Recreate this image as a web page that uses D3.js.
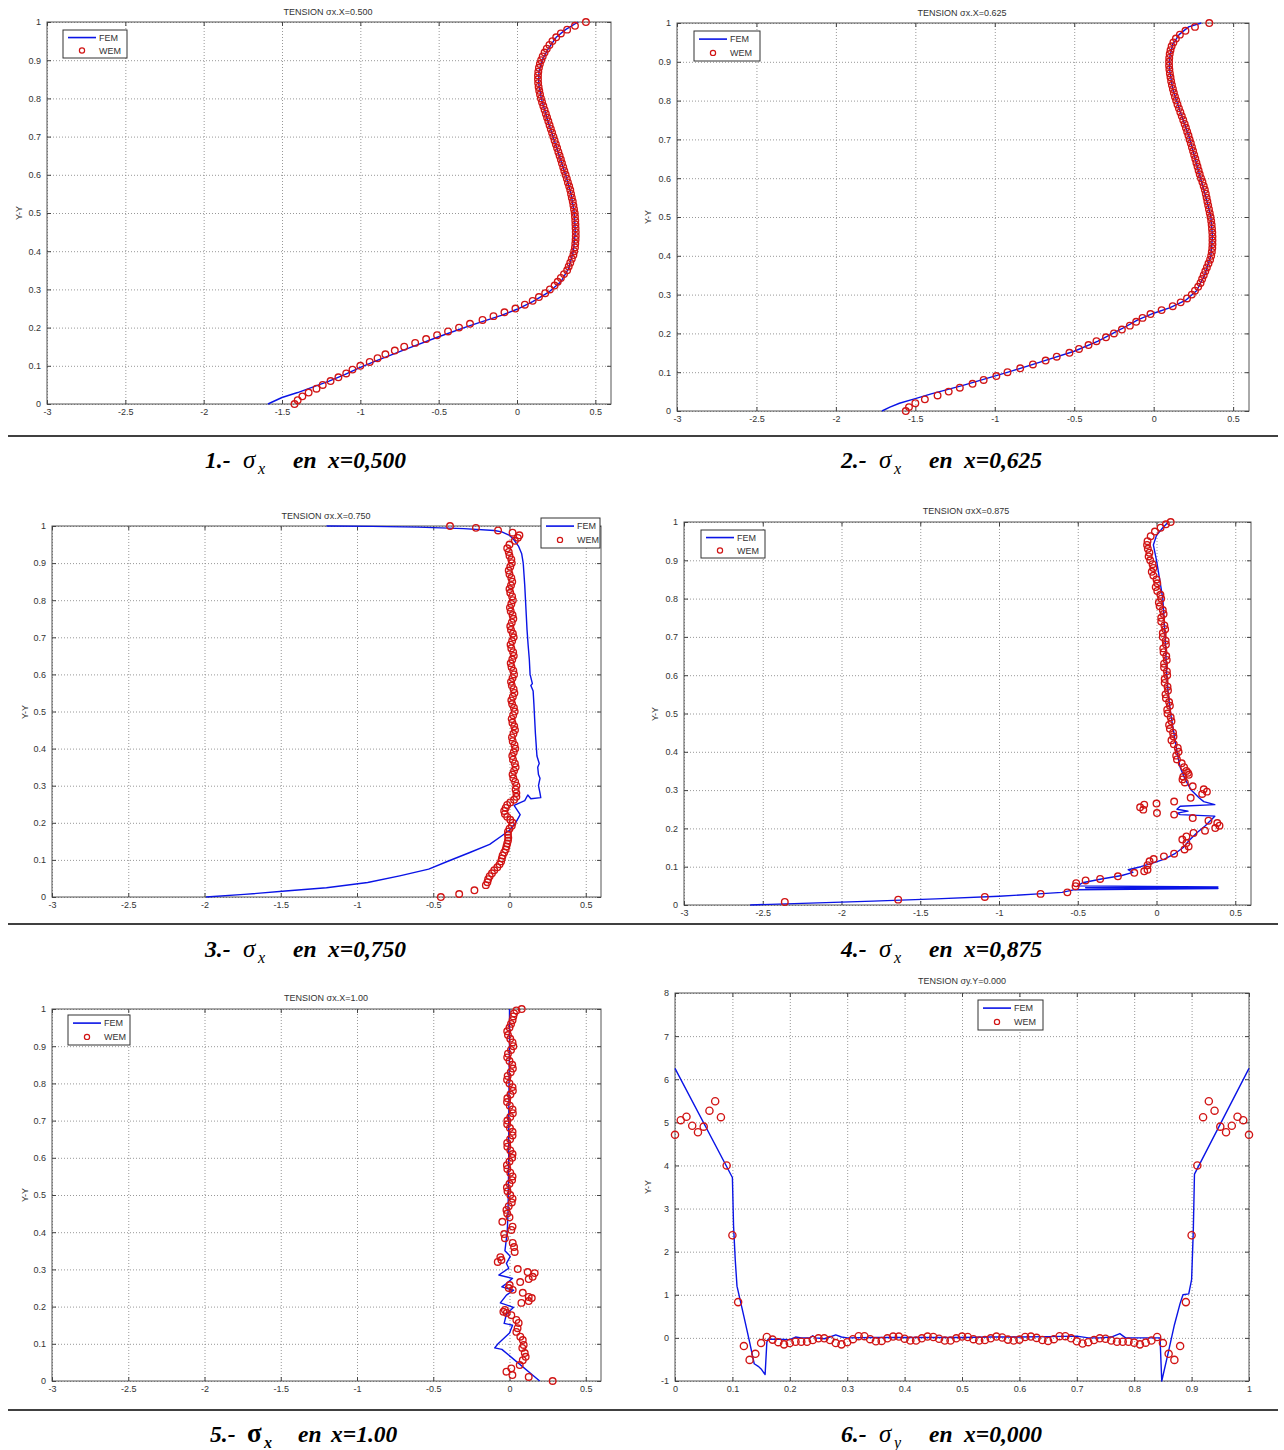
<!DOCTYPE html>
<html><head><meta charset="utf-8">
<script src="https://cdn.jsdelivr.net/npm/d3@7"></script>
<style>
body{margin:0;background:#fff;}
svg{display:block;}
</style></head><body>
<svg id="c" width="1284" height="1450"></svg>
<script>
// ---------------- DATA ----------------
const xTicksSx = [-3,-2.5,-2,-1.5,-1,-0.5,0,0.5];
const yTicksUnit = [0,0.1,0.2,0.3,0.4,0.5,0.6,0.7,0.8,0.9,1];
const xTicksUnit = [0,0.1,0.2,0.3,0.4,0.5,0.6,0.7,0.8,0.9,1];
const yTicksSy = [-1,0,1,2,3,4,5,6,7,8];

const wemY = [0,0.01,0.02,0.03,0.04,0.05,0.06,0.07,0.08,0.09,
 0.1,0.11,0.12,0.13,0.14,0.15,0.16,0.17,0.18,0.19,
 0.2,0.21,0.22,0.23,0.24,0.25,0.26,0.27,0.28,0.29,
 0.3,0.31,0.32,0.33,0.34,0.35,0.36,0.37,0.38,0.39,
 0.4,0.41,0.42,0.43,0.44,0.45,0.46,0.47,0.48,0.49,
 0.5,0.51,0.52,0.53,0.54,0.55,0.56,0.57,0.58,0.59,
 0.6,0.61,0.62,0.63,0.64,0.65,0.66,0.67,0.68,0.69,
 0.7,0.71,0.72,0.73,0.74,0.75,0.76,0.77,0.78,0.79,
 0.8,0.81,0.82,0.83,0.84,0.85,0.86,0.87,0.88,0.89,
 0.9,0.91,0.92,0.93,0.94,0.95,0.96,0.97,0.98,0.99,1.0];

const p1WemX = [-1.42,-1.40,-1.37,-1.33,-1.28,-1.24,-1.19,-1.14,-1.09,-1.05,
 -1.00,-0.94,-0.89,-0.84,-0.78,-0.72,-0.65,-0.58,-0.51,-0.44,
 -0.37,-0.30,-0.22,-0.15,-0.08,-0.01,0.05,0.10,0.14,0.18,
 0.21,0.24,0.26,0.28,0.30,0.32,0.33,0.34,0.35,0.36,
 0.365,0.37,0.372,0.374,0.375,0.375,0.374,0.373,0.372,0.37,
 0.368,0.364,0.36,0.356,0.35,0.345,0.34,0.333,0.325,0.318,
 0.31,0.302,0.295,0.287,0.28,0.272,0.264,0.256,0.248,0.24,
 0.232,0.224,0.216,0.208,0.2,0.192,0.184,0.176,0.168,0.16,
 0.153,0.147,0.142,0.138,0.135,0.134,0.134,0.136,0.14,0.146,
 0.154,0.164,0.176,0.19,0.207,0.226,0.25,0.28,0.32,0.37,0.44];

const p1Fem = [[-1.59,0.0],[-1.5,0.017],[-1.4,0.03],[-1.3,0.045],[-1.2,0.06],[-1.1,0.077],[-1.0,0.096],[-0.9,0.113],[-0.7,0.145],[-0.5,0.176],[-0.3,0.205],[-0.1,0.232],[0.0,0.248],[0.1,0.268],[0.2,0.292],[0.28,0.32],[0.33,0.355],[0.36,0.4],[0.372,0.45],[0.366,0.5],[0.345,0.55],[0.31,0.6],[0.27,0.65],[0.23,0.7],[0.19,0.75],[0.155,0.8],[0.138,0.84],[0.14,0.87],[0.16,0.9],[0.2,0.93],[0.25,0.96],[0.31,0.98],[0.39,1.0]];

const p2WemX = [-1.56,-1.54,-1.50,-1.44,-1.36,-1.29,-1.22,-1.14,-1.07,-0.99,
 -0.92,-0.84,-0.76,-0.68,-0.61,-0.53,-0.47,-0.41,-0.36,-0.30,
 -0.25,-0.20,-0.15,-0.11,-0.07,-0.02,0.05,0.12,0.17,0.21,
 0.24,0.26,0.28,0.295,0.305,0.315,0.325,0.335,0.345,0.355,
 0.362,0.366,0.369,0.37,0.37,0.37,0.369,0.367,0.365,0.362,
 0.358,0.353,0.348,0.343,0.338,0.333,0.328,0.322,0.315,0.307,
 0.298,0.29,0.283,0.276,0.269,0.262,0.255,0.248,0.241,0.234,
 0.226,0.219,0.211,0.203,0.195,0.186,0.177,0.168,0.159,0.15,
 0.142,0.134,0.127,0.121,0.115,0.11,0.106,0.102,0.099,0.097,
 0.097,0.098,0.101,0.106,0.113,0.124,0.14,0.165,0.2,0.26,0.35];

const p2Fem = [[-1.71,0.0],[-1.66,0.01],[-1.6,0.02],[-1.5,0.032],[-1.4,0.044],[-1.3,0.055],[-1.2,0.066],[-1.05,0.084],[-0.9,0.102],[-0.7,0.128],[-0.5,0.154],[-0.35,0.18],[-0.2,0.212],[-0.1,0.235],[0.0,0.252],[0.1,0.266],[0.2,0.285],[0.27,0.31],[0.32,0.35],[0.36,0.4],[0.37,0.45],[0.36,0.5],[0.33,0.55],[0.295,0.6],[0.255,0.66],[0.22,0.71],[0.16,0.78],[0.12,0.83],[0.1,0.88],[0.1,0.91],[0.12,0.945],[0.16,0.97],[0.22,0.99],[0.3,1.0]];

const p3Wem = [[-0.39,1.0],[-0.22,0.995],[-0.075,0.988],[0.02,0.982],[0.065,0.975],[0.055,0.968],[0.035,0.96],[0.0,0.95],[-0.015,0.94],[-0.005,0.93],
 [0.0,0.92],[0.012,0.91],[0.015,0.90],[0.005,0.89],[-0.005,0.88],[0.0,0.87],[0.012,0.86],[0.018,0.85],[0.01,0.84],[0.0,0.83],[0.005,0.82],[0.017,0.81],[0.022,0.80],[0.012,0.79],[0.003,0.78],[0.008,0.77],[0.02,0.76],[0.025,0.75],[0.015,0.74],[0.005,0.73],[0.01,0.72],[0.022,0.71],[0.027,0.70],[0.017,0.69],[0.007,0.68],[0.012,0.67],[0.024,0.66],[0.028,0.65],[0.018,0.64],[0.008,0.63],[0.013,0.62],[0.025,0.61],[0.03,0.60],[0.02,0.59],[0.01,0.58],[0.015,0.57],[0.027,0.56],[0.032,0.55],[0.022,0.54],[0.012,0.53],[0.017,0.52],[0.029,0.51],[0.034,0.50],[0.024,0.49],[0.014,0.48],[0.019,0.47],[0.031,0.46],[0.036,0.45],[0.026,0.44],[0.016,0.43],[0.021,0.42],[0.033,0.41],[0.038,0.40],[0.028,0.39],[0.018,0.38],[0.023,0.37],[0.035,0.36],[0.04,0.35],[0.03,0.34],[0.02,0.33],[0.025,0.32],[0.037,0.31],[0.045,0.30],[0.04,0.29],[0.045,0.28],
 [0.045,0.27],[0.03,0.262],[0.005,0.255],[-0.015,0.248],[-0.025,0.24],[-0.035,0.232],[-0.03,0.224],[-0.015,0.216],[0.005,0.208],[0.02,0.2],[0.015,0.192],[0.0,0.184],[-0.01,0.176],[-0.01,0.168],[-0.008,0.16],[-0.01,0.152],[-0.015,0.144],[-0.02,0.136],[-0.025,0.128],[-0.035,0.12],[-0.045,0.112],[-0.05,0.104],[-0.055,0.096],[-0.065,0.088],[-0.08,0.08],[-0.1,0.072],[-0.115,0.064],[-0.13,0.056],[-0.14,0.048],[-0.145,0.04],[-0.155,0.032],[-0.23,0.018],[-0.33,0.008],[-0.45,0.0]];

const p3Fem = [[-1.2,1.0],[-0.9,0.999],[-0.6,0.997],[-0.3,0.993],[-0.1,0.988],[-0.05,0.984],[0.0,0.975],[0.03,0.962],[0.06,0.945],[0.08,0.925],[0.09,0.9],[0.095,0.87],[0.1,0.84],[0.105,0.8],[0.11,0.76],[0.115,0.72],[0.122,0.68],[0.13,0.64],[0.135,0.6],[0.15,0.575],[0.14,0.57],[0.155,0.555],[0.16,0.52],[0.165,0.48],[0.17,0.44],[0.175,0.41],[0.18,0.38],[0.195,0.36],[0.185,0.35],[0.19,0.33],[0.2,0.32],[0.19,0.3],[0.2,0.28],[0.205,0.268],[0.14,0.265],[0.12,0.275],[0.1,0.26],[0.03,0.247],[0.07,0.222],[0.04,0.2],[0.0,0.18],[-0.05,0.165],[-0.13,0.142],[-0.26,0.12],[-0.4,0.097],[-0.53,0.075],[-0.72,0.057],[-0.93,0.039],[-1.2,0.025],[-1.47,0.016],[-1.74,0.007],[-1.99,0.0]];

const p4Wem = [[0.09,1.0],[0.06,0.994],[0.026,0.985],[-0.01,0.975],[-0.037,0.963],
 [-0.057,0.95],[-0.06,0.94],[-0.055,0.93],[-0.045,0.92],[-0.05,0.91],[-0.04,0.90],[-0.025,0.89],[-0.02,0.88],[-0.03,0.87],[-0.02,0.86],[0.0,0.85],[0.005,0.84],[-0.005,0.83],[0.005,0.82],[0.025,0.81],[0.03,0.80],[0.015,0.79],[0.02,0.78],[0.04,0.77],[0.045,0.76],[0.03,0.75],[0.03,0.74],[0.05,0.73],[0.055,0.72],[0.04,0.71],[0.04,0.70],[0.058,0.69],[0.06,0.68],[0.043,0.67],[0.045,0.66],[0.062,0.65],[0.065,0.64],[0.048,0.63],[0.048,0.62],[0.066,0.61],[0.068,0.60],[0.052,0.59],[0.052,0.58],[0.07,0.57],[0.073,0.56],[0.057,0.55],[0.06,0.54],[0.08,0.53],[0.085,0.52],[0.068,0.51],[0.07,0.50],[0.09,0.49],[0.095,0.48],[0.08,0.47],[0.085,0.46],[0.105,0.45],[0.108,0.44],[0.095,0.43],[0.11,0.42],[0.135,0.41],[0.14,0.40],[0.125,0.39],[0.13,0.38],[0.16,0.37],[0.175,0.36],
 [0.19,0.35],[0.2,0.345],[0.205,0.34],[0.17,0.335],[0.165,0.328],[0.18,0.32],[0.23,0.31],[0.3,0.302],[0.32,0.296],[0.29,0.29],[0.217,0.28],[0.112,0.27],[0.0,0.265],[-0.078,0.262],[-0.104,0.255],[-0.084,0.249],[0.003,0.24],[0.112,0.236],[0.23,0.227],[0.33,0.22],[0.386,0.214],[0.4,0.207],[0.373,0.201],[0.308,0.194],[0.235,0.188],[0.19,0.179],[0.164,0.171],[0.19,0.162],[0.204,0.153],[0.178,0.145],[0.112,0.134],[0.047,0.127],[-0.018,0.12],[-0.044,0.114],[-0.057,0.104],[-0.057,0.092],[-0.078,0.088],[-0.141,0.084],[-0.245,0.075],[-0.358,0.068],[-0.45,0.064],[-0.51,0.057],[-0.514,0.049],[-0.566,0.033],[-0.736,0.029],[-1.09,0.021],[-1.64,0.014],[-2.36,0.008]];

const p4Fem = [[-2.58,0.0],[-2.2,0.005],[-1.8,0.01],[-1.4,0.016],[-1.0,0.023],[-0.75,0.029],[-0.6,0.033],[-0.52,0.04],[0.39,0.043],[-0.45,0.045],[0.39,0.047],[-0.5,0.05],[-0.47,0.058],[-0.35,0.068],[-0.22,0.077],[-0.15,0.085],[-0.18,0.092],[-0.1,0.1],[-0.02,0.11],[0.05,0.12],[0.12,0.135],[0.17,0.15],[0.21,0.17],[0.26,0.19],[0.31,0.207],[0.37,0.232],[0.15,0.236],[0.13,0.24],[0.2,0.245],[0.13,0.25],[0.15,0.258],[0.37,0.262],[0.3,0.27],[0.27,0.28],[0.22,0.3],[0.18,0.33],[0.15,0.36],[0.13,0.4],[0.11,0.45],[0.09,0.5],[0.075,0.55],[0.065,0.6],[0.055,0.7],[0.04,0.8],[0.02,0.85],[0.0,0.9],[-0.02,0.94],[0.0,0.965],[0.04,0.985],[0.075,1.0]];

const p5Wem = [[0.08,1.0],[0.045,0.996],[0.03,0.988],[0.025,0.98],[0.02,0.97],[0.01,0.96],
 [0.0,0.95],[-0.015,0.94],[-0.01,0.93],[0.005,0.92],[0.02,0.91],[0.025,0.90],[0.01,0.89],[-0.01,0.88],[-0.015,0.87],[0.0,0.86],[0.018,0.85],[0.022,0.84],[0.008,0.83],[-0.012,0.82],[-0.016,0.81],[0.0,0.80],[0.02,0.79],[0.022,0.78],[0.006,0.77],[-0.014,0.76],[-0.016,0.75],[0.002,0.74],[0.02,0.73],[0.022,0.72],[0.005,0.71],[-0.014,0.70],[-0.015,0.69],[0.003,0.68],[0.02,0.67],[0.02,0.66],[0.004,0.65],[-0.015,0.64],[-0.014,0.63],[0.005,0.62],[0.02,0.61],[0.018,0.60],[0.0,0.59],[-0.017,0.58],[-0.014,0.57],[0.005,0.56],[0.02,0.55],[0.017,0.54],[0.0,0.53],[-0.017,0.52],[-0.013,0.51],[0.005,0.50],[0.02,0.49],[0.015,0.48],[-0.005,0.47],[-0.02,0.46],[-0.015,0.45],[0.0,0.44],
 [-0.047,0.428],[0.02,0.415],[0.012,0.406],[-0.035,0.395],[-0.03,0.384],[0.021,0.371],[0.03,0.36],[0.034,0.347],[-0.06,0.333],[-0.053,0.325],[-0.077,0.32],[0.054,0.301],[0.119,0.293],[0.165,0.29],[0.152,0.28],[0.126,0.274],[0.07,0.266],[0.001,0.258],[-0.005,0.25],[0.021,0.245],[0.087,0.237],[0.126,0.226],[0.146,0.223],[0.126,0.215],[0.078,0.21],[-0.03,0.191],[-0.04,0.186],[-0.018,0.183],[0.012,0.177],[0.045,0.164],[0.06,0.156],[0.053,0.142],[0.045,0.132],[0.071,0.119],[0.087,0.11],[0.093,0.097],[0.084,0.089],[0.1,0.075],[0.106,0.065],[0.087,0.056],[0.067,0.043],[0.012,0.034],[-0.02,0.025],[0.019,0.016],[0.126,0.011],[0.283,0.0]];

const p5Fem = [[0.0,1.0],[0.0,0.9],[-0.003,0.8],[-0.005,0.7],[-0.005,0.6],[-0.008,0.5],[-0.01,0.45],[-0.015,0.4],[-0.03,0.35],[0.005,0.335],[-0.02,0.316],[-0.005,0.303],[-0.07,0.285],[0.02,0.276],[-0.02,0.262],[-0.05,0.253],[0.027,0.244],[-0.02,0.231],[-0.06,0.21],[0.027,0.198],[-0.02,0.18],[-0.035,0.155],[0.02,0.15],[0.0,0.129],[-0.075,0.1],[-0.097,0.089],[-0.05,0.085],[0.198,0.0]];

const p6WemX = [0,0.01,0.02,0.03,0.04,0.05,0.06,0.07,0.08,0.09,
 0.1,0.11,0.12,0.13,0.14,0.15,0.16,0.17,0.18,0.19,
 0.2,0.21,0.22,0.23,0.24,0.25,0.26,0.27,0.28,0.29,
 0.3,0.31,0.32,0.33,0.34,0.35,0.36,0.37,0.38,0.39,
 0.4,0.41,0.42,0.43,0.44,0.45,0.46,0.47,0.48,0.49,
 0.5,0.51,0.52,0.53,0.54,0.55,0.56,0.57,0.58,0.59,
 0.6,0.61,0.62,0.63,0.64,0.65,0.66,0.67,0.68,0.69,
 0.7,0.71,0.72,0.73,0.74,0.75,0.76,0.77,0.78,0.79,
 0.8,0.81,0.82,0.83,0.84,0.85,0.86,0.87,0.88,0.89,
 0.9,0.91,0.92,0.93,0.94,0.95,0.96,0.97,0.98,0.99,1.0];
const p6WemY = [4.71,5.05,5.13,4.92,4.77,4.90,5.27,5.49,5.12,4.00,
 2.38,0.83,-0.19,-0.51,-0.37,-0.12,0.02,-0.04,-0.10,-0.15,
 -0.12,-0.09,-0.09,-0.09,-0.05,-0.01,-0.01,-0.05,-0.12,-0.15,
 -0.10,-0.03,0.04,0.04,-0.03,-0.08,-0.07,-0.01,0.03,0.03,
 -0.02,-0.06,-0.06,-0.01,0.03,0.02,-0.02,-0.06,-0.06,-0.01,
 0.03,0.02,-0.03,-0.06,-0.05,-0.01,0.03,0.01,-0.04,-0.06,
 -0.04,0.02,0.03,0.00,-0.05,-0.07,-0.03,0.04,0.04,-0.01,
 -0.08,-0.13,-0.10,-0.05,-0.01,-0.02,-0.06,-0.09,-0.09,-0.09,
 -0.11,-0.15,-0.11,-0.06,0.02,-0.12,-0.37,-0.51,-0.19,0.83,
 2.38,4.00,5.12,5.49,5.27,4.90,4.77,4.92,5.13,5.05,4.71];
const p6Fem = [[0,6.25],[0.1,3.72],[0.102,2.6],[0.105,1.8],[0.108,1.2],[0.12,0.5],[0.13,-0.1],[0.138,-0.6],[0.145,-0.66],[0.15,-0.72],[0.157,-0.85],[0.16,-0.1],[0.162,-0.03],[0.18,-0.03],[0.2,-0.04],[0.21,0.02],[0.22,0.0],[0.235,0.0],[0.24,0.05],[0.245,0.0],[0.26,-0.02],[0.27,0.02],[0.28,0.07],[0.29,0.02],[0.3,0.0],[0.35,0.01],[0.4,0.01],[0.45,0.01],[0.5,0.01],[0.55,0.02],[0.6,0.02],[0.65,0.03],[0.7,0.04],[0.72,0.0],[0.74,0.0],[0.76,0.02],[0.775,0.1],[0.785,0.0],[0.8,0.0],[0.82,0.0],[0.845,0.0],[0.848,-1.0],[0.86,-0.3],[0.87,0.3],[0.88,0.8],[0.885,1.0],[0.895,1.02],[0.9,1.35],[0.903,2.5],[0.905,3.8],[1.0,6.25]];

const titles = ["TENSION \u03C3x.X=0.500","TENSION \u03C3x.X=0.625","TENSION \u03C3x.X=0.750","TENSION \u03C3xX=0.875","TENSION \u03C3x.X=1.00","TENSION \u03C3y.Y=0.000"];
const seriesNames = ["FEM","WEM"];
const captionNums = ["1.-","2.-","3.-","4.-","5.-","6.-"];
const captionSubs = ["x","x","x","x","x","y"];
const captionRests = ["x=0,500","x=0,625","x=0,750","x=0,875","x=1.00","x=0,000"];

// ---------------- LAYOUT ----------------
const zip = (xs, ys) => xs.map((v,i)=>[v, ys[i]]);
const panels = [
 {title:titles[0], xd:[-3,0.6], yd:[0,1], L:47, R:611, T:22, B:404, xt:xTicksSx, yt:yTicksUnit, fem:p1Fem, wem:zip(p1WemX,wemY), leg:[63,30,64,28], ylab:[22,213], tpos:[328,15], r:3.3},
 {title:titles[1], xd:[-3,0.6], yd:[0,1], L:677, R:1249, T:23, B:411, xt:xTicksSx, yt:yTicksUnit, fem:p2Fem, wem:zip(p2WemX,wemY), leg:[694,31,66,30], ylab:[651,217], tpos:[962,16], r:3.3},
 {title:titles[2], xd:[-3,0.6], yd:[0,1], L:52, R:601, T:526, B:897, xt:xTicksSx, yt:yTicksUnit, fem:p3Fem, wem:p3Wem, leg:[541,518,59,30], ylab:[28,712], tpos:[326,519], r:3.3},
 {title:titles[3], xd:[-3,0.6], yd:[0,1], L:684, R:1251, T:522, B:905, xt:xTicksSx, yt:yTicksUnit, fem:p4Fem, wem:p4Wem, leg:[701,530,64,28], ylab:[658,714], tpos:[966,514], r:3.3},
 {title:titles[4], xd:[-3,0.6], yd:[0,1], L:52, R:601, T:1009, B:1381, xt:xTicksSx, yt:yTicksUnit, fem:p5Fem, wem:p5Wem, leg:[68,1015,62,30], ylab:[28,1195], tpos:[326,1001], r:3.3},
 {title:titles[5], xd:[0,1], yd:[-1,8], L:675, R:1249, T:993, B:1381, xt:xTicksUnit, yt:yTicksSy, fem:p6Fem, wem:zip(p6WemX,p6WemY), leg:[978,1000,65,30], ylab:[651,1187], tpos:[962,984], r:3.6}
];

const svg = d3.select("#c");
const FONT = "'Liberation Sans', Arial, sans-serif";
const BLUE = "#0a14e6", RED = "#d11414";
const fmt = d => String(d);

function drawPanel(p){
  const x = d3.scaleLinear().domain(p.xd).range([p.L, p.R]);
  const y = d3.scaleLinear().domain(p.yd).range([p.B, p.T]);
  const W = p.R - p.L, H = p.B - p.T;
  const g = svg.append("g");

  // grid
  g.append("g").attr("transform",`translate(0,${p.B})`)
    .call(d3.axisBottom(x).tickValues(p.xt).tickSize(-H).tickFormat(""))
    .call(a=>{a.select(".domain").remove(); a.selectAll("line").attr("stroke","#8c8c8c").attr("stroke-dasharray","1,2").attr("stroke-width",0.9);});
  g.append("g").attr("transform",`translate(${p.L},0)`)
    .call(d3.axisLeft(y).tickValues(p.yt).tickSize(-W).tickFormat(""))
    .call(a=>{a.select(".domain").remove(); a.selectAll("line").attr("stroke","#8c8c8c").attr("stroke-dasharray","1,2").attr("stroke-width",0.9);});

  // box
  g.append("rect").attr("x",p.L).attr("y",p.T).attr("width",W).attr("height",H)
    .attr("fill","none").attr("stroke","#555").attr("stroke-width",1);

  const styleAxis = a => {
    a.select(".domain").remove();
    a.selectAll("line").attr("stroke","#444");
    a.selectAll("text").attr("font-family",FONT).attr("font-size",9).attr("fill","#333");
  };
  g.append("g").attr("transform",`translate(0,${p.B})`)
    .call(d3.axisBottom(x).tickValues(p.xt).tickSizeInner(-4).tickSizeOuter(0).tickPadding(5).tickFormat(fmt)).call(styleAxis);
  g.append("g").attr("transform",`translate(0,${p.T})`)
    .call(d3.axisTop(x).tickValues(p.xt).tickSizeInner(-4).tickSizeOuter(0).tickFormat("")).call(styleAxis);
  g.append("g").attr("transform",`translate(${p.L},0)`)
    .call(d3.axisLeft(y).tickValues(p.yt).tickSizeInner(-4).tickSizeOuter(0).tickPadding(6).tickFormat(fmt)).call(styleAxis);
  g.append("g").attr("transform",`translate(${p.R},0)`)
    .call(d3.axisRight(y).tickValues(p.yt).tickSizeInner(-4).tickSizeOuter(0).tickFormat("")).call(styleAxis);

  // title
  g.append("text").attr("x",p.tpos[0]).attr("y",p.tpos[1]).attr("text-anchor","middle")
    .attr("font-family",FONT).attr("font-size",9).attr("fill","#333").text(p.title);
  // y label
  g.append("text").attr("transform",`translate(${p.ylab[0]},${p.ylab[1]}) rotate(-90)`).attr("text-anchor","middle")
    .attr("font-family",FONT).attr("font-size",9).attr("fill","#333").text("Y-Y");

  // FEM line
  const line = d3.line().x(d=>x(d[0])).y(d=>y(d[1]));
  g.append("path").datum(p.fem).attr("d",line).attr("fill","none").attr("stroke",BLUE).attr("stroke-width",1.4).attr("stroke-linejoin","round");
  // WEM circles
  g.append("g").selectAll("circle").data(p.wem).join("circle")
    .attr("cx",d=>x(d[0])).attr("cy",d=>y(d[1])).attr("r",p.r)
    .attr("fill","none").attr("stroke",RED).attr("stroke-width",1.35);

  // legend
  const [lx,ly,lw,lh] = p.leg;
  const lg = g.append("g");
  lg.append("rect").attr("x",lx).attr("y",ly).attr("width",lw).attr("height",lh).attr("fill","#fff").attr("stroke","#333").attr("stroke-width",1);
  lg.append("line").attr("x1",lx+5).attr("x2",lx+33).attr("y1",ly+lh*0.27).attr("y2",ly+lh*0.27).attr("stroke",BLUE).attr("stroke-width",1.6);
  lg.append("circle").attr("cx",lx+19).attr("cy",ly+lh*0.73).attr("r",2.6).attr("fill","none").attr("stroke",RED).attr("stroke-width",1.2);
  lg.append("text").attr("x",lx+36).attr("y",ly+lh*0.27+3.3).attr("font-family",FONT).attr("font-size",9).attr("fill","#333").text(seriesNames[0]);
  lg.append("text").attr("x",lx+36).attr("y",ly+lh*0.73+3.3).attr("font-family",FONT).attr("font-size",9).attr("fill","#333").text(seriesNames[1]);
}
panels.forEach(drawPanel);

// rules
[436, 924, 1410].forEach(yy => {
  svg.append("line").attr("x1",8).attr("x2",1278).attr("y1",yy).attr("y2",yy).attr("stroke","#000").attr("stroke-width",1.5);
});

// captions
const capPos = [[205,468],[841,468],[205,957],[841,957],[210,1442],[841,1442]];
capPos.forEach((cp,i) => {
  const [cx, cy] = cp;
  const bold = i === 4;
  const t = svg.append("text").attr("y",cy)
    .attr("font-family","'Liberation Serif','Times New Roman',serif").attr("font-size",23.5)
    .attr("font-weight","bold").attr("font-style","italic").attr("fill","#000");
  t.append("tspan").attr("x",cx).text(captionNums[i]);
  t.append("tspan").attr("x",cx + (bold ? 37 : 38)).attr("font-weight", bold ? "bold" : "normal")
    .attr("font-style", bold ? "normal" : "italic").attr("font-size", bold ? 27 : 25).text("\u03C3");
  t.append("tspan").attr("x",cx + (bold ? 54 : 53)).attr("dy",6).attr("font-weight", bold ? "bold" : "normal").attr("font-size",16).text(captionSubs[i]);
  t.append("tspan").attr("x",cx + 88).attr("dy",-6).text("en");
  t.append("tspan").attr("x",cx + (bold ? 121 : 123)).text(captionRests[i]);
});
</script>
</body></html>
